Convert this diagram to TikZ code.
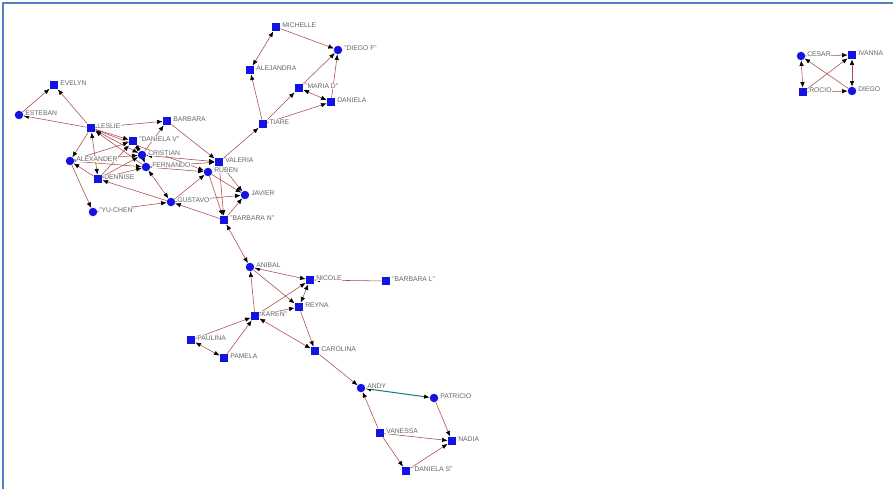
\documentclass[tikz,border=0pt]{standalone}
\usepackage{fontspec}
\setmainfont{Liberation Sans}
\usepackage{tikz}
\usetikzlibrary{arrows.meta,backgrounds}
\definecolor{edgered}{RGB}{172,72,72}
\definecolor{nodeblue}{RGB}{20,20,225}
\definecolor{tealedge}{RGB}{20,120,120}
\definecolor{framecol}{RGB}{80,130,195}

\begin{document}
\begin{tikzpicture}[x=1pt,y=-1pt,label distance=1pt]

\tikzset{sq/.style = {shape=rectangle,fill=nodeblue,inner sep=0pt,minimum size=8.5pt}}
\tikzset{dot/.style = {shape=circle,fill=nodeblue,inner sep=0pt,minimum size=8.5pt}}
\tikzset{lbl/.style = {font=\fontsize{6.8}{7}\selectfont,text=black!60,fill=white,inner sep=0.6pt,yshift=2pt}}
\tikzset{edge/.style = {->,> = {Latex[black,length=5.5pt,width=4.5pt]},draw=edgered,line width=0.55pt}}

\useasboundingbox (0,0) rectangle (893,489);
\draw[framecol,line width=2.5pt] (3,489) -- (3,3) -- (893,3);

% vertices, top group
\node[sq] (michelle) at (276,27) [label={[lbl]right:MICHELLE}] {};
\node[dot] (diegof) at (338,50) [label={[lbl]right:"DIEGO F"}] {};
\node[sq] (alejandra) at (250,70) [label={[lbl]right:ALEJANDRA}] {};
\node[sq] (mariad) at (299,88) [label={[lbl]right:"MARIA D"}] {};
\node[sq] (daniela) at (331,102) [label={[lbl]right:DANIELA}] {};
\node[sq] (tiare) at (263,124) [label={[lbl]right:TIARE}] {};
% vertices, left group
\node[sq] (evelyn) at (54,85) [label={[lbl]right:EVELYN}] {};
\node[dot] (esteban) at (19,115) [label={[lbl]right:ESTEBAN}] {};
\node[sq] (leslie) at (91,128) [label={[lbl]right:LESLIE}] {};
\node[sq] (barbara) at (167,121) [label={[lbl]right:BARBARA}] {};
\node[sq] (danielav) at (133,141) [label={[lbl]right:"DANIELA V"}] {};
\node[dot] (cristian) at (142,155) [label={[lbl]right:CRISTIAN}] {};
\node[dot] (alexander) at (70,161) [label={[lbl]right:ALEXANDER}] {};
\node[dot] (fernando) at (146,167) [label={[lbl]right:FERNANDO}] {};
\node[sq] (valeria) at (219,162) [label={[lbl]right:VALERIA}] {};
\node[dot] (ruben) at (208,172) [label={[lbl]right:RUBEN}] {};
\node[sq] (dennise) at (98,179) [label={[lbl]right:DENNISE}] {};
\node[dot] (javier) at (245,195) [label={[lbl]right:JAVIER}] {};
\node[dot] (gustavo) at (171,202) [label={[lbl]right:GUSTAVO}] {};
\node[dot] (yuchen) at (93,212) [label={[lbl]right:"YU-CHEN"}] {};
\node[sq] (barbaran) at (224,220) [label={[lbl]right:"BARBARA N"}] {};
% vertices, bottom group
\node[dot] (anibal) at (250,267) [label={[lbl]right:ANIBAL}] {};
\node[sq] (nicole) at (310,280) [label={[lbl]right:NICOLE}] {};
\node[sq] (barbaral) at (386,281) [label={[lbl]right:"BARBARA L"}] {};
\node[sq] (reyna) at (299,307) [label={[lbl]right:REYNA}] {};
\node[sq] (karen) at (255,316) [label={[lbl]right:KAREN"}] {};
\node[sq] (paulina) at (191,340) [label={[lbl]right:PAULINA}] {};
\node[sq] (pamela) at (224,358) [label={[lbl]right:PAMELA}] {};
\node[sq] (carolina) at (315,351) [label={[lbl]right:CAROLINA}] {};
\node[dot] (andy) at (361,388) [label={[lbl]right:ANDY}] {};
\node[dot] (patricio) at (434,398) [label={[lbl]right:PATRICIO}] {};
\node[sq] (vanessa) at (380,433) [label={[lbl]right:VANESSA}] {};
\node[sq] (nadia) at (452,441) [label={[lbl]right:NADIA}] {};
\node[sq] (danielas) at (406,471) [label={[lbl]right:"DANIELA S"}] {};
% vertices, right group
\node[dot] (cesar) at (801,56) [label={[lbl]right:CESAR}] {};
\node[sq] (ivanna) at (852,55) [label={[lbl]right:IVANNA}] {};
\node[sq] (rocio) at (803,92) [label={[lbl]right:ROCIO}] {};
\node[dot] (diego) at (852,91) [label={[lbl]right:DIEGO}] {};

\begin{scope}[on background layer]
% top group
\draw[edge] (michelle) to (diegof);
\draw[edge,<->] (alejandra) to (michelle);
\draw[edge] (tiare) to (alejandra);
\draw[edge] (tiare) to (mariad);
\draw[edge] (tiare) to (daniela);
\draw[edge,<->] (mariad) to (daniela);
\draw[edge] (mariad) to (diegof);
\draw[edge] (daniela) to (diegof);
\draw[edge] (valeria) to (tiare);
% left group
\draw[edge] (esteban) to (evelyn);
\draw[edge] (leslie) to (evelyn);
\draw[edge] (leslie) to (esteban);
\draw[edge] (leslie) to (barbara);
\draw[edge] (barbara) to (valeria);
\draw[edge] (cristian) to (barbara);
\draw[edge] (leslie) to (alexander);
\draw[edge,<->] (leslie) to (dennise);
\draw[edge] (leslie) to (danielav);
\draw[edge,<->] (leslie) to (cristian);
\draw[edge] (fernando) to (leslie);
\draw[edge] (leslie) to (ruben);
\draw[edge] (alexander) to (danielav);
\draw[edge] (alexander) to (cristian);
\draw[edge] (alexander) to (fernando);
\draw[edge] (dennise) to (alexander);
\draw[edge] (dennise) to (danielav);
\draw[edge] (dennise) to (cristian);
\draw[edge] (dennise) to (fernando);
\draw[edge] (alexander) to (yuchen);
\draw[edge,<->] (danielav) to (cristian);
\draw[edge,<->] (cristian) to (fernando);
\draw[edge,<->] (cristian) to (valeria);
\draw[edge] (fernando) to (valeria);
\draw[edge] (fernando) to (ruben);
\draw[edge,<->] (fernando) to (gustavo);
\draw[edge] (gustavo) to (dennise);
\draw[edge] (yuchen) to (gustavo);
\draw[edge] (gustavo) to (ruben);
\draw[edge] (gustavo) to (javier);
\draw[edge] (barbaran) to (gustavo);
\draw[edge] (ruben) to (barbaran);
\draw[edge] (valeria) to (barbaran);
\draw[edge] (ruben) to (javier);
\draw[edge] (valeria) to (javier);
\draw[edge] (barbaran) to (javier);
% bottom group
\draw[edge,<->] (barbaran) to (anibal);
\draw[edge,<->] (anibal) to (nicole);
\draw[edge] (anibal) to (reyna);
\draw[edge] (karen) to (anibal);
\draw[edge] (karen) to (nicole);
\draw[edge,<->] (reyna) to (nicole);
\draw[edge] (karen) to (reyna);
\draw[edge] (reyna) to (carolina);
\draw[edge,<->] (karen) to (carolina);
\draw[edge] (paulina) to (karen);
\draw[edge] (pamela) to (karen);
\draw[edge,<->] (paulina) to (pamela);
\draw[edge] (barbaral) to (nicole);
\draw[edge] (carolina) to (andy);
\draw[edge,<->,draw=tealedge,line width=1pt] (andy) to (patricio);
\draw[edge] (patricio) to (nadia);
\draw[edge] (vanessa) to (andy);
\draw[edge] (vanessa) to (nadia);
\draw[edge] (vanessa) to (danielas);
\draw[edge] (danielas) to (nadia);
% right group
\draw[edge] (cesar) to (ivanna);
\draw[edge] (rocio) to (diego);
\draw[edge,<->] (cesar) to (rocio);
\draw[edge,<->] (ivanna) to (diego);
\draw[edge] (rocio) to (ivanna);
\draw[edge] (diego) to (cesar);
\end{scope}
\end{tikzpicture}
\end{document}
